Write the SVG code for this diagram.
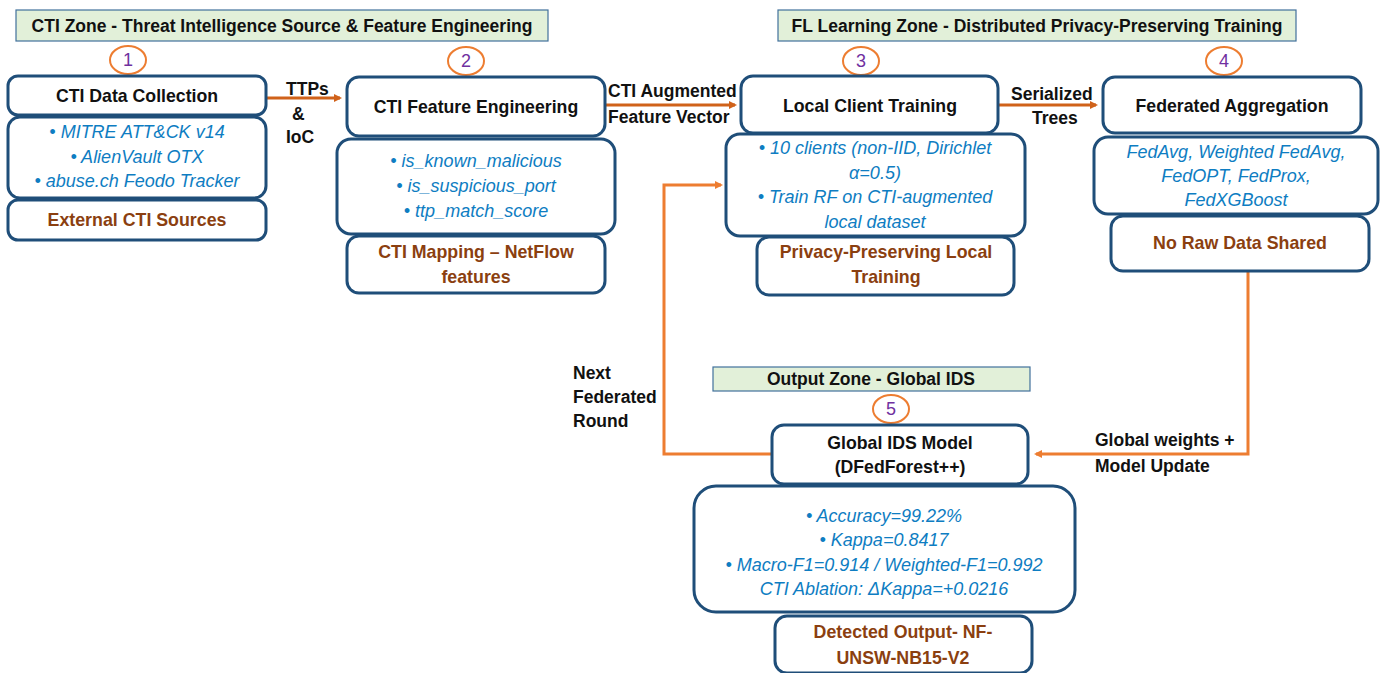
<svg xmlns="http://www.w3.org/2000/svg" width="1386" height="673" viewBox="0 0 1386 673">
<style>
.bx{fill:#fff;stroke:#1f4e79;stroke-width:3}
.zone{fill:#e2f0d9;stroke:#41719c;stroke-width:1.2}
.zt{font-family:"Liberation Sans",Arial,sans-serif;font-weight:bold;font-size:17.5px;fill:#111;text-anchor:middle}
.h{font-family:"Liberation Sans",Arial,sans-serif;font-weight:bold;font-size:17.7px;fill:#111;text-anchor:middle}
.b{font-family:"Liberation Sans",Arial,sans-serif;font-style:italic;font-size:18px;fill:#0e7dc2;text-anchor:middle}
.f{font-family:"Liberation Sans",Arial,sans-serif;font-weight:bold;font-size:17.8px;fill:#8b3f10;text-anchor:middle}
.lb{font-family:"Liberation Sans",Arial,sans-serif;font-weight:bold;font-size:17.5px;fill:#111}
.c{fill:#fff;stroke:#ed7d31;stroke-width:2}
.n{font-family:"Liberation Sans",Arial,sans-serif;font-size:18px;fill:#7030a0;text-anchor:middle}
.ar{fill:none;stroke:#ed7d31;stroke-width:3}
.ar2{fill:none;stroke:#d0621a;stroke-width:3}
</style>
<defs>
<marker id="ah" markerWidth="8" markerHeight="8" refX="6" refY="4" orient="auto" markerUnits="userSpaceOnUse"><path d="M0,0 L8,4 L0,8 Z" fill="#ed7d31"/></marker>
<marker id="ah2" markerWidth="8" markerHeight="8" refX="6" refY="4" orient="auto" markerUnits="userSpaceOnUse"><path d="M0,0 L8,4 L0,8 Z" fill="#d0621a"/></marker>
</defs>
<rect width="1386" height="673" fill="#fff"/>

<g id="zones">
<rect class="zone" x="16" y="10" width="532" height="31"/>
<text class="zt" x="282" y="32">CTI Zone - Threat Intelligence Source &amp; Feature Engineering</text>
<rect class="zone" x="778" y="10" width="518" height="31"/>
<text class="zt" x="1037" y="32">FL Learning Zone - Distributed Privacy-Preserving Training</text>
<rect class="zone" x="713" y="367" width="317" height="24"/>
<text class="zt" x="871" y="385">Output Zone - Global IDS</text>
</g>

<g id="connectors">
<path class="ar2" d="M266,98 H340" marker-end="url(#ah2)"/>
<path class="ar2" d="M605,105 H735" marker-end="url(#ah2)"/>
<path class="ar2" d="M998,105 H1096" marker-end="url(#ah2)"/>
<path class="ar" d="M1248,271 V454 H1036" marker-end="url(#ah)"/>
<path class="ar" d="M772,454 H664 V185 H721" marker-end="url(#ah)"/>
<text class="lb" x="286" y="95">TTPs</text>
<text class="lb" x="292" y="120">&amp;</text>
<text class="lb" x="286" y="143">IoC</text>
<text class="lb" x="608" y="97">CTI Augmented</text>
<text class="lb" x="608" y="123">Feature Vector</text>
<text class="lb" x="1011" y="100">Serialized</text>
<text class="lb" x="1032" y="124">Trees</text>
<text class="lb" x="1095" y="446">Global weights +</text>
<text class="lb" x="1095" y="472">Model Update</text>
<text class="lb" x="573" y="379">Next</text>
<text class="lb" x="573" y="403">Federated</text>
<text class="lb" x="573" y="427">Round</text>
</g>

<g id="node1">
<ellipse class="c" cx="128" cy="60" rx="18" ry="14"/>
<text class="n" x="128" y="66">1</text>
<rect class="bx" x="8" y="76" width="258" height="39" rx="10"/>
<text class="h" x="137" y="102">CTI Data Collection</text>
<rect class="bx" x="8" y="117" width="258" height="81" rx="12"/>
<text class="b" x="137" y="138">• MITRE ATT&amp;CK v14</text>
<text class="b" x="137" y="163">• AlienVault OTX</text>
<text class="b" x="137" y="187">• abuse.ch Feodo Tracker</text>
<rect class="bx" x="8" y="200" width="258" height="40" rx="10"/>
<text class="f" x="137" y="226">External CTI Sources</text>
</g>

<g id="node2">
<ellipse class="c" cx="466" cy="61" rx="18" ry="14"/>
<text class="n" x="466" y="67">2</text>
<rect class="bx" x="347" y="77" width="258" height="59" rx="12"/>
<text class="h" x="476" y="113">CTI Feature Engineering</text>
<rect class="bx" x="337" y="139" width="278" height="95" rx="14"/>
<text class="b" x="476" y="167">• is_known_malicious</text>
<text class="b" x="476" y="192">• is_suspicious_port</text>
<text class="b" x="476" y="217">• ttp_match_score</text>
<rect class="bx" x="347" y="236" width="258" height="57" rx="12"/>
<text class="f" x="476" y="258">CTI Mapping – NetFlow</text>
<text class="f" x="476" y="283">features</text>
</g>

<g id="node3">
<ellipse class="c" cx="861" cy="61" rx="18" ry="14"/>
<text class="n" x="861" y="67">3</text>
<rect class="bx" x="741" y="76" width="257" height="57" rx="12"/>
<text class="h" x="870" y="112">Local Client Training</text>
<rect class="bx" x="726" y="134" width="299" height="102" rx="14"/>
<text class="b" x="875" y="154">• 10 clients (non-IID, Dirichlet</text>
<text class="b" x="875" y="179">α=0.5)</text>
<text class="b" x="875" y="203">• Train RF on CTI-augmented</text>
<text class="b" x="875" y="228">local dataset</text>
<rect class="bx" x="757" y="237" width="257" height="58" rx="12"/>
<text class="f" x="886" y="258">Privacy-Preserving Local</text>
<text class="f" x="886" y="283">Training</text>
</g>

<g id="node4">
<ellipse class="c" cx="1224" cy="61" rx="18" ry="14"/>
<text class="n" x="1224" y="67">4</text>
<rect class="bx" x="1103" y="77" width="258" height="56" rx="12"/>
<text class="h" x="1232" y="112">Federated Aggregation</text>
<rect class="bx" x="1094" y="137" width="284" height="77" rx="14"/>
<text class="b" x="1236" y="158">FedAvg, Weighted FedAvg,</text>
<text class="b" x="1236" y="182">FedOPT, FedProx,</text>
<text class="b" x="1236" y="206">FedXGBoost</text>
<rect class="bx" x="1111" y="216" width="258" height="55" rx="12"/>
<text class="f" x="1240" y="249">No Raw Data Shared</text>
</g>

<g id="node5">
<ellipse class="c" cx="891" cy="409" rx="18" ry="14"/>
<text class="n" x="891" y="415">5</text>
<rect class="bx" x="772" y="425" width="256" height="59" rx="12"/>
<text class="h" x="900" y="449">Global IDS Model</text>
<text class="h" x="900" y="473">(DFedForest++)</text>
<rect class="bx" x="694" y="486" width="381" height="126" rx="22"/>
<text class="b" x="884" y="522">• Accuracy=99.22%</text>
<text class="b" x="884" y="546">• Kappa=0.8417</text>
<text class="b" x="884" y="571">• Macro-F1=0.914 / Weighted-F1=0.992</text>
<text class="b" x="884" y="595">CTI Ablation: ΔKappa=+0.0216</text>
<rect class="bx" x="775" y="616" width="257" height="57" rx="12"/>
<text class="f" x="903" y="638">Detected Output- NF-</text>
<text class="f" x="903" y="664">UNSW-NB15-V2</text>
</g>
</svg>
